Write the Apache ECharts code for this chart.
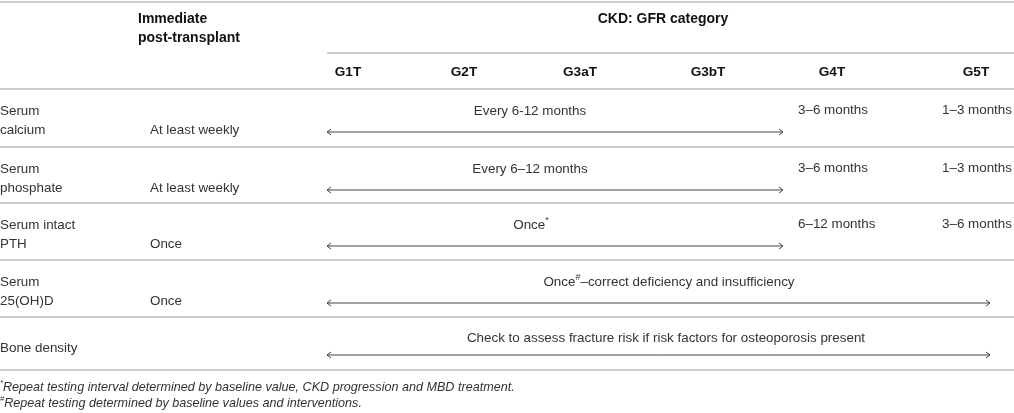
<!DOCTYPE html>
<html>
<head>
<meta charset="utf-8">
<script src="https://cdn.jsdelivr.net/npm/echarts@6/dist/echarts.min.js"></script>
<style>
    html, body { margin: 0; padding: 0; background: #fff; }
    #main { width: 1014px; height: 413px; }
</style>
</head>
<body>
<div id="main"></div>
<script>
// table content
var gfrCols = ['G1T', 'G2T', 'G3aT', 'G3bT', 'G4T', 'G5T'];
var gfrTitle = 'CKD: GFR category';
var immTitle = ['Immediate', 'post-transplant'];
var rowLabels = [['Serum', 'calcium'], ['Serum', 'phosphate'], ['Serum intact', 'PTH'], ['Serum', '25(OH)D'], ['Bone density']];
var immediate = ['At least weekly', 'At least weekly', 'Once', 'Once', ''];
// {t|..} normal text, {s|..} superscript
var spanText = [
    '{t|Every 6-12 months}',
    '{t|Every 6–12 months}',
    '{t|Once}{s|*}',
    '{t|Once}{s|#}{t|–correct deficiency and insufficiency}',
    '{t|Check to assess fracture risk if risk factors for osteoporosis present}'
];
var spanEnd = ['G3bT', 'G3bT', 'G3bT', 'G5T', 'G5T'];
var g4Text = ['3–6 months', '3–6 months', '6–12 months', '', ''];
var g5Text = ['1–3 months', '1–3 months', '3–6 months', '', ''];
var footMarks = ['*', '#'];
var footnotes = [
    'Repeat testing interval determined by baseline value, CKD progression and MBD treatment.',
    'Repeat testing determined by baseline values and interventions.'
];

// layout (table geometry in axis units)
var colCenter = [348, 464, 580, 708, 832, 976];
var cellLeft = { label: 0, imm: 150, G4T: 798, G5T: 942 };
var arrowFrom = 327;
var arrowTo = { G3bT: 783, G5T: 990 };
var spanCenter = [530, 530, 531, 669, 666];
var rowTop = [89, 147, 203, 260, 317];
var tableBottom = 370;

var FONT = '"Liberation Sans", Arial, sans-serif';
var TXT = '#333';
var RULE = '#bdbdbd';
var BODY = 13.4;

function txt(api, x, y, s, opt) {
    var p = api.coord([x, y]);
    opt = opt || {};
    return {
        type: 'text',
        x: p[0], y: p[1],
        style: {
            text: s,
            fill: opt.fill || TXT,
            fontSize: opt.size || BODY,
            fontFamily: FONT,
            fontWeight: opt.bold ? 'bold' : 'normal',
            fontStyle: opt.italic ? 'italic' : 'normal',
            align: opt.align || 'left',
            verticalAlign: 'middle',
            rich: opt.rich
        }
    };
}

function rule(api, x1, x2, y, w) {
    var a = api.coord([x1, y]), b = api.coord([x2, y]);
    return {
        type: 'line',
        shape: { x1: a[0], y1: a[1], x2: b[0], y2: b[1] },
        style: { stroke: RULE, lineWidth: w || 1.6 }
    };
}

function arrow(api, x1, x2, y) {
    var a = api.coord([x1, y]), b = api.coord([x2, y]);
    var st = { stroke: '#444', lineWidth: 1, fill: null };
    return {
        type: 'group',
        children: [
            { type: 'line', shape: { x1: a[0], y1: a[1], x2: b[0], y2: b[1] }, style: st },
            { type: 'polyline', shape: { points: [[a[0] + 4, a[1] - 3], [a[0], a[1]], [a[0] + 4, a[1] + 3]] }, style: st },
            { type: 'polyline', shape: { points: [[b[0] - 4, b[1] - 3], [b[0], b[1]], [b[0] - 4, b[1] + 3]] }, style: st }
        ]
    };
}

var richSpan = {
    t: { fontSize: BODY, fontFamily: FONT, color: TXT, lineHeight: 16, verticalAlign: 'bottom' },
    s: { fontSize: 9, fontFamily: FONT, color: TXT, lineHeight: 16, verticalAlign: 'top' }
};

function renderHeader(params, api) {
    var ch = [];
    var hd = { bold: true, fill: '#111', size: 14 };
    ch.push(rule(api, 0, 1014, 2));
    ch.push(txt(api, 138, 19, immTitle[0], hd));
    ch.push(txt(api, 138, 38, immTitle[1], hd));
    ch.push(txt(api, 663, 19, gfrTitle, { bold: true, fill: '#111', size: 14, align: 'center' }));
    ch.push(rule(api, 327, 1014, 53));
    gfrCols.forEach(function (c, i) {
        ch.push(txt(api, colCenter[i], 72, c, { bold: true, fill: '#111', size: 13.6, align: 'center' }));
    });
    ch.push(rule(api, 0, 1014, 89));
    return { type: 'group', children: ch };
}

function renderRow(params, api) {
    var i = api.value(0);
    var top = rowTop[i];
    var bottom = i + 1 < rowTop.length ? rowTop[i + 1] : tableBottom;
    var lines = rowLabels[i];
    var two = lines.length === 2;
    var ch = [];
    lines.forEach(function (s, k) {
        var y = two ? top + 22 + 19 * k : top + 31;
        ch.push(txt(api, cellLeft.label, y, s));
    });
    if (immediate[i]) ch.push(txt(api, cellLeft.imm, top + 41, immediate[i]));
    var ys = two ? top + 21 : top + 20;
    ch.push(txt(api, spanCenter[i], ys, spanText[i], { align: 'center', rich: richSpan }));
    ch.push(arrow(api, arrowFrom, arrowTo[spanEnd[i]], two ? top + 43 : top + 38));
    if (g4Text[i]) ch.push(txt(api, cellLeft.G4T, top + 21, g4Text[i]));
    if (g5Text[i]) ch.push(txt(api, cellLeft.G5T, top + 21, g5Text[i]));
    ch.push(rule(api, 0, 1014, bottom));
    return { type: 'group', children: ch };
}

function renderFoot(params, api) {
    var i = api.value(0);
    var y = 386 + 16.5 * i;
    var rich = {
        m: { fontSize: 7.5, fontFamily: FONT, fontStyle: 'italic', color: TXT, lineHeight: 15, verticalAlign: 'top' },
        f: { fontSize: 12.6, fontFamily: FONT, fontStyle: 'italic', color: TXT, lineHeight: 15, verticalAlign: 'bottom' }
    };
    return txt(api, 0, y, '{m|' + footMarks[i] + '}{f|' + footnotes[i] + '}', { rich: rich, italic: true, size: 12.6 });
}

var chart = echarts.init(document.getElementById('main'));
chart.setOption({
    animation: false,
    grid: { left: 0, right: 0, top: 0, bottom: 0 },
    xAxis: { type: 'value', min: 0, max: 1014, show: false },
    yAxis: { type: 'value', min: 0, max: 413, inverse: true, show: false },
    series: [
        { type: 'custom', renderItem: renderHeader, data: [[0]], silent: true },
        { type: 'custom', renderItem: renderRow, data: rowLabels.map(function (r, i) { return [i]; }), silent: true },
        { type: 'custom', renderItem: renderFoot, data: footnotes.map(function (f, i) { return [i]; }), silent: true }
    ]
});
</script>
</body>
</html>
